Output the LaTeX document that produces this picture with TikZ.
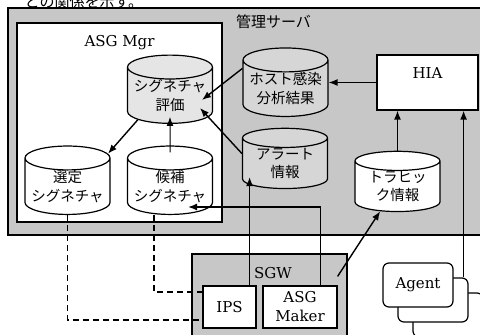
\documentclass[tikz,border=0pt]{standalone}
\usepackage{fontspec}
\setmainfont{DejaVu Serif}
\newfontfamily\jp{Noto Sans CJK JP}
\usetikzlibrary{shapes.geometric,arrows.meta,positioning,calc}

\tikzset{
  area/.style={draw, line width=1.2pt, fill=black!22},
  whitebox/.style={draw, line width=1.2pt, fill=white},
  db/.style={cylinder, shape border rotate=90, aspect=0.33, draw, line width=1.2pt,
    minimum width=85pt, minimum height=58pt, inner sep=0pt, align=center,
    font=\jp\fontsize{14.5}{18.5}\selectfont},
  agentbox/.style={draw, line width=1.2pt, fill=white, rounded corners=6pt,
    minimum width=70pt, minimum height=44pt},
  dashline/.style={line width=1.4pt, dash pattern=on 6pt off 4pt},
  jptext/.style={font=\jp\fontsize{15}{18}\selectfont, inner sep=0pt},
}

\begin{document}
\begin{tikzpicture}[x=1pt, y=-1pt, >={Latex[length=9pt,width=7pt]}, line width=1.4pt,
    font=\fontsize{15}{18}\selectfont]
\clip (0,0) rectangle (480,335);
\node[jptext, anchor=base west] (caption) at (24,7) {との関係を示す。};

% management server
\node[area, minimum width=482pt, minimum height=227pt] (server) at (249,121.5) {};
\node[jptext, below right=7pt and 228pt of server.north west, anchor=north west] (serverlabel) {管理サーバ};

\node[whitebox, line width=2pt, minimum width=205pt, minimum height=199pt] (mgr) at (119.5,122.5) {};
\node[below=13pt of mgr.north, inner sep=0pt] (mgrlabel) {ASG Mgr};

\node[db, fill=black!10] (sigeval) at (170,95.5) {シグネチャ\\評価};
\node[db, fill=white] (select) at (67.5,186.5) {選定\\シグネチャ};
\node[db, fill=white] (cand) at (170,186.5) {候補\\シグネチャ};
\node[db, fill=black!16] (host) at (285.5,88.5) {ホスト感染\\分析結果};
\node[db, fill=black!16] (alert) at (285,163.5) {アラート\\情報};
\node[db, fill=white] (traffic) at (397.5,186.5) {トラヒッ\\ク情報};

\node[whitebox, minimum width=101pt, minimum height=55pt] (hia) at (427.5,82.5) {};
\node[below=12pt of hia.north, inner sep=0pt] (hialabel) {HIA};

% gateway
\node[area, minimum width=155pt, minimum height=95pt] (sgw) at (269.5,301.5) {};
\node[below=13pt of sgw.north, xshift=3.5pt, inner sep=0pt] (sgwlabel) {SGW};
\node[whitebox, minimum width=53pt, minimum height=42pt] (ips) at (229.5,307) {IPS};
\node[whitebox, minimum width=74pt, minimum height=42pt, align=center, inner sep=0pt,
    font=\fontsize{15}{19}\selectfont] (maker) at (300,307) {ASG\\Maker};

% agents
\node[agentbox] (agent3) at (448,315) {};
\node[agentbox] (agent2) at (433,300) {};
\node[agentbox] (agent1) at (418,285) {Agent};

\coordinate (evalR) at ($(sigeval)+(32,4.5)$);
\coordinate (evalR2) at ($(sigeval)+(30,12.5)$);
\coordinate (agentup) at ([xshift=-5pt]agent2.north east);
\coordinate (ipsup) at ([xshift=-7pt]ips.north east);
\coordinate (alertin) at ($(alert)+(0,13.5)$);
\coordinate (makerup) at ([xshift=-17pt]maker.north east);
\coordinate (candin) at ($(cand)+(18,20.5)$);
\coordinate (makercorner) at ([yshift=9pt]maker.north east);

\draw[->] (host.155) -- (evalR);
\draw[->] (alert.167) -- (evalR2);
\draw[->] (hia.west) -- (hia.west -| host.east);
\draw[->] (traffic.north) -- (traffic.north |- hia.south);
\draw[->] (agentup) -- (agentup |- hia.south);
\draw[->] (makercorner) -- (traffic.235);
\draw[->] (ipsup) -- (ipsup |- alertin);
\draw[->] (makerup) |- (candin);
\draw[->] (sigeval.217) -- (select.39);
\draw[->, line width=1pt] ([yshift=-7pt]cand.north) -- ([yshift=7pt]sigeval.south);

\draw[dashline] (select.south) |- ([yshift=-13pt]ips.west);
\draw[dashline] ([xshift=-16pt]cand.south) |- ([yshift=15pt]ips.west);
\end{tikzpicture}
\end{document}
